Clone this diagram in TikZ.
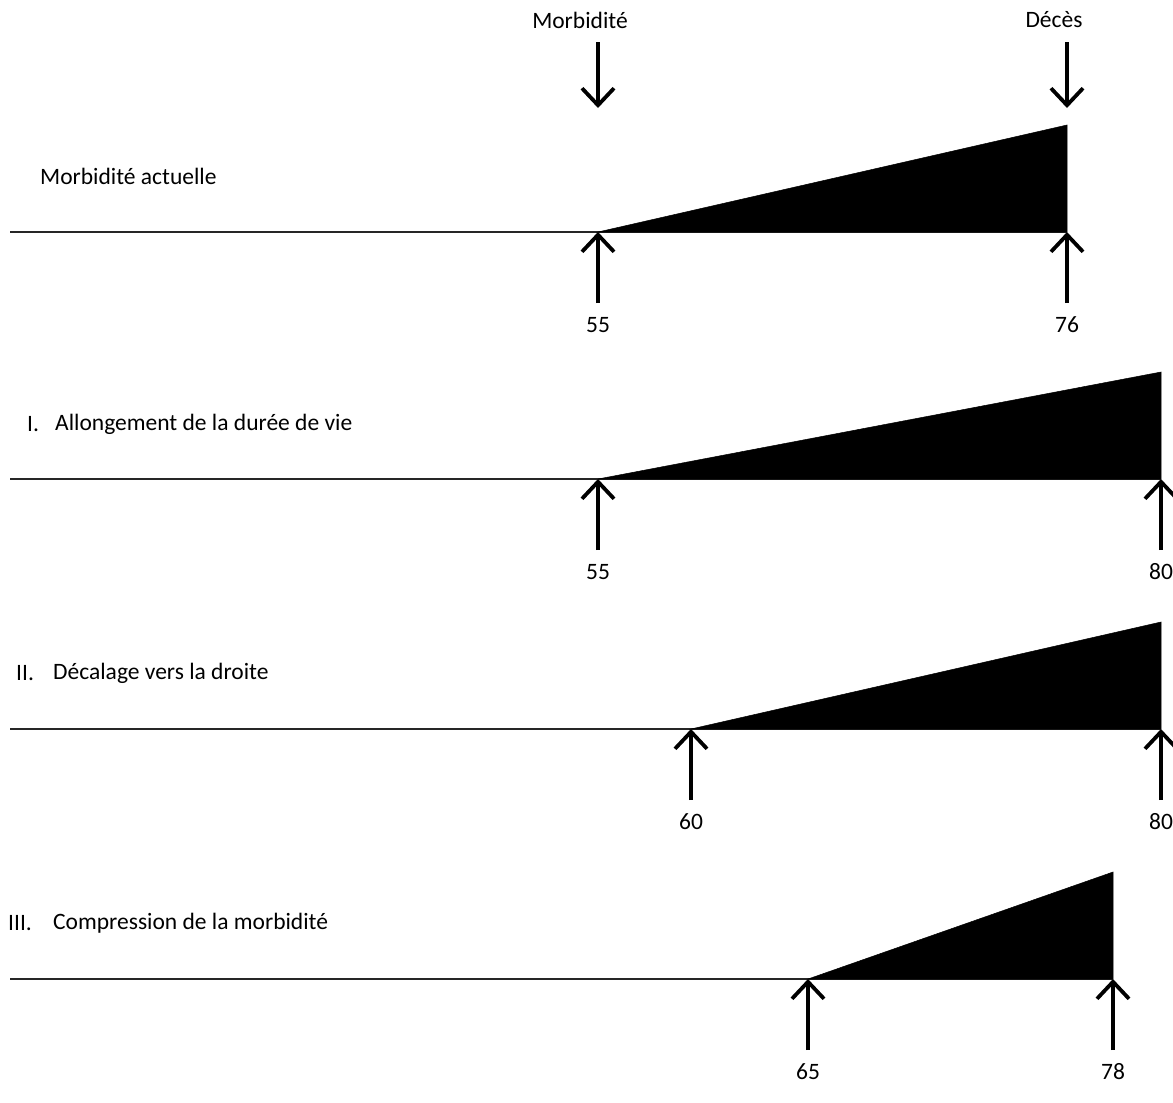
\documentclass[tikz,border=0pt]{standalone}
\usepackage{fontspec}
\setmainfont{Carlito}
\usetikzlibrary{arrows.meta}
\begin{document}
\begin{tikzpicture}[x=1pt,y=-1pt,
  lbl/.style={inner sep=0pt,font=\fontsize{23.5}{27}\selectfont},
  baseln/.style={line width=2pt,draw=black!85},
  wedge/.style={fill=black,draw=black,line width=0.5pt},
  marker/.style={line width=3.8pt,-{Straight Barb[length=17pt,width=32pt,line width=3.8pt]}}]
\useasboundingbox (0,0) rectangle (1173,1103);
% top labels
\node[lbl] (morb) at (580,20) {Morbidité};
\node[lbl] (deces) at (1054,20) {Décès};
\coordinate (mt) at (598,42); \coordinate (mb) at (598,108);
\coordinate (dt) at (1067,42); \coordinate (db) at (1067,108);
\draw[marker] (mt) -- (mb);
\draw[marker] (dt) -- (db);
% rows: y, start, end, left label
\foreach \n/\y/\a/\b/\la/\lb in {0/232/598/1067/55/76, 1/479/598/1161/55/80, 2/729/691/1161/60/80, 3/979/808/1113/65/78}{
  \coordinate (L\n) at (10,\y);
  \coordinate (S\n) at (\a,\y);
  \coordinate (E\n) at (\b,\y);
  \coordinate (T\n) at (\b,\y-107);
  \coordinate (SA\n) at (\a,\y+71);
  \coordinate (EA\n) at (\b,\y+71);
  \draw[baseln] (L\n) -- (E\n);
  \fill[wedge] (S\n) -- (E\n) -- (T\n) -- cycle;
  \draw[marker] (SA\n) -- (S\n);
  \draw[marker] (EA\n) -- (E\n);
  \node[lbl] (n\n a) at (\a,\y+93) {\la};
  \node[lbl] (n\n b) at (\b,\y+93) {\lb};
}
\node[lbl,anchor=west] (t0) at (40,176) {Morbidité actuelle};
\node[lbl,anchor=west] (r1) at (27,424) {I.};
\node[lbl,anchor=west] (t1) at (55,424) {Allongement de la durée de vie};
\node[lbl,anchor=west] (r2) at (16,673) {II.};
\node[lbl,anchor=west] (t2) at (53,673) {Décalage vers la droite};
\node[lbl,anchor=west] (r3) at (8,923) {III.};
\node[lbl,anchor=west] (t3) at (53,923) {Compression de la morbidité};
\end{tikzpicture}
\end{document}
